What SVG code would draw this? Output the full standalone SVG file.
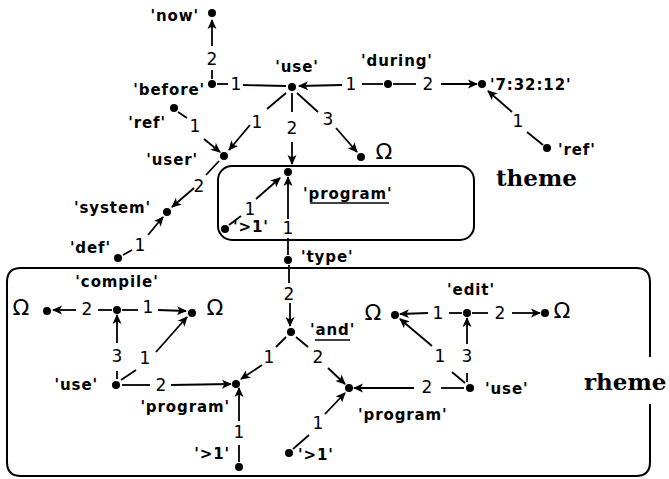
<svg xmlns="http://www.w3.org/2000/svg" width="669" height="479" viewBox="0 0 669 479">
<defs>
<marker id="ah" markerUnits="userSpaceOnUse" markerWidth="10" markerHeight="10" refX="9" refY="5" orient="auto">
<path d="M0,0.5 L10,5 L0,9.5 L2.5,5 z" fill="#000"/>
</marker>
<style>
.n{font-family:'DejaVu Sans',sans-serif;font-weight:bold;font-size:15px;letter-spacing:0.9px;fill:#000}
.e{font-family:'DejaVu Sans',sans-serif;font-size:17px;fill:#000;text-anchor:middle}
.o{font-family:'DejaVu Sans',sans-serif;font-size:22px;fill:#000;text-anchor:middle}
.t{font-family:'DejaVu Serif',serif;font-weight:bold;font-size:23px;fill:#000}
.d{fill:#000}
#edges line{stroke:#000;stroke-width:1.8;fill:none}
#edges line.a{marker-end:url(#ah)}
.box{fill:none;stroke:#000;stroke-width:2}
.u{stroke:#000;stroke-width:1.5}
</style>
</defs>
<rect width="669" height="479" fill="#fff"/>

<g id="themes">
<rect class="box" x="218" y="166" width="256" height="74" rx="14"/>
<text class="t" x="496" y="186">theme</text>
<path class="box" d="M650,357 V282 Q650,268 636,268 H21 Q7,268 7,282 V462 Q7,476 21,476 H636 Q650,476 650,462 V404"/>
<text class="t" x="584" y="390">rheme</text>
</g>

<g id="edges">
<g><line x1="243" y1="85" x2="286" y2="86"/><line x1="217" y1="84" x2="228" y2="84"/><text class="e" x="236" y="90">1</text></g>
<g><line x1="212" y1="79" x2="212" y2="70"/><line class="a" x1="212" y1="46" x2="212" y2="20"/><text class="e" x="212" y="65">2</text></g>
<g><line x1="383" y1="84" x2="362" y2="84"/><line class="a" x1="342" y1="85" x2="299" y2="86"/><text class="e" x="351" y="90">1</text></g>
<g><line x1="393" y1="84" x2="416" y2="84"/><line class="a" x1="441" y1="84" x2="477" y2="84"/><text class="e" x="428" y="90">2</text></g>
<g><line x1="543" y1="145" x2="527" y2="132"/><line class="a" x1="512" y1="112" x2="488" y2="91"/><text class="e" x="518" y="127">1</text></g>
<g><line x1="286" y1="93" x2="267" y2="109"/><line class="a" x1="250" y1="125" x2="229" y2="150"/><text class="e" x="257" y="128">1</text></g>
<g><line x1="292" y1="93" x2="292" y2="112"/><line class="a" x1="292" y1="142" x2="292" y2="164"/><text class="e" x="292" y="134">2</text></g>
<g><line x1="297" y1="93" x2="318" y2="112"/><line class="a" x1="336" y1="128" x2="357" y2="152"/><text class="e" x="328" y="125">3</text></g>
<g><line x1="178" y1="112" x2="187" y2="118"/><line class="a" x1="204" y1="139" x2="220" y2="152"/><text class="e" x="195" y="132">1</text></g>
<g><line x1="219" y1="161" x2="206" y2="175"/><line class="a" x1="194" y1="188" x2="172" y2="207"/><text class="e" x="199" y="192">2</text></g>
<g><line x1="123" y1="255" x2="132" y2="250"/><line class="a" x1="148" y1="235" x2="163" y2="217"/><text class="e" x="140" y="251">1</text></g>
<g><line x1="229" y1="225" x2="241" y2="216"/><line class="a" x1="256" y1="199" x2="280" y2="178"/><text class="e" x="250" y="215">1</text></g>
<g><line x1="288" y1="255" x2="288" y2="238"/><line class="a" x1="288" y1="219" x2="288" y2="177"/><text class="e" x="288" y="234">1</text></g>
<g><line x1="289" y1="265" x2="289" y2="283"/><line class="a" x1="290" y1="303" x2="290" y2="326"/><text class="e" x="289" y="300">2</text></g>
<g><line x1="286" y1="337" x2="276" y2="347"/><line class="a" x1="262" y1="365" x2="241" y2="379"/><text class="e" x="269" y="363">1</text></g>
<g><line x1="296" y1="337" x2="308" y2="347"/><line class="a" x1="328" y1="368" x2="345" y2="384"/><text class="e" x="318" y="363">2</text></g>
<g><line x1="112" y1="310" x2="98" y2="310"/><line class="a" x1="76" y1="310" x2="53" y2="310"/><text class="e" x="87" y="315">2</text></g>
<g><line x1="122" y1="310" x2="138" y2="310"/><line class="a" x1="158" y1="310" x2="186" y2="311"/><text class="e" x="148" y="313">1</text></g>
<g><line x1="117" y1="379" x2="117" y2="371"/><line class="a" x1="117" y1="343" x2="117" y2="315"/><text class="e" x="117" y="362">3</text></g>
<g><line x1="121" y1="380" x2="136" y2="370"/><line class="a" x1="156" y1="352" x2="187" y2="317"/><text class="e" x="145" y="364">1</text></g>
<g><line x1="122" y1="385" x2="150" y2="385"/><line class="a" x1="171" y1="385" x2="231" y2="384"/><text class="e" x="161" y="391">2</text></g>
<g><line x1="239" y1="462" x2="239" y2="445"/><line class="a" x1="239" y1="421" x2="239" y2="388"/><text class="e" x="239" y="438">1</text></g>
<g><line x1="293" y1="449" x2="309" y2="435"/><line class="a" x1="325" y1="414" x2="345" y2="393"/><text class="e" x="318" y="429">1</text></g>
<g><line x1="464" y1="388" x2="441" y2="388"/><line class="a" x1="414" y1="388" x2="354" y2="388"/><text class="e" x="427" y="393">2</text></g>
<g><line x1="462" y1="313" x2="449" y2="313"/><line class="a" x1="428" y1="313" x2="400" y2="314"/><text class="e" x="438" y="319">1</text></g>
<g><line x1="472" y1="313" x2="488" y2="313"/><line class="a" x1="512" y1="313" x2="540" y2="313"/><text class="e" x="500" y="319">2</text></g>
<g><line x1="467" y1="382" x2="467" y2="373"/><line class="a" x1="467" y1="344" x2="467" y2="318"/><text class="e" x="467" y="362">3</text></g>
<g><line x1="465" y1="383" x2="452" y2="372"/><line class="a" x1="432" y1="346" x2="400" y2="319"/><text class="e" x="440" y="362">1</text></g>
</g>

<g id="nodes">
<g id="now"><circle class="d" cx="212" cy="13" r="4"/><text class="n" x="199" y="21" text-anchor="end">'now'</text></g>
<g id="before"><circle class="d" cx="212" cy="84" r="4"/><text class="n" x="205" y="95" text-anchor="end">'before'</text></g>
<g id="use1"><circle class="d" cx="292" cy="87" r="4"/><text class="n" x="297" y="72" text-anchor="middle">'use'</text></g>
<g id="during"><circle class="d" cx="388" cy="84" r="4"/><text class="n" x="397" y="66" text-anchor="middle">'during'</text></g>
<g id="time"><circle class="d" cx="482" cy="84" r="4"/><text class="n" x="490" y="90">'7:32:12'</text></g>
<g id="ref2"><circle class="d" cx="547" cy="148" r="4"/><text class="n" x="558" y="155">'ref'</text></g>
<g id="ref1"><circle class="d" cx="174" cy="108" r="4"/><text class="n" x="166" y="128" text-anchor="end">'ref'</text></g>
<g id="user"><circle class="d" cx="224" cy="156" r="4"/><text class="n" x="198" y="165" text-anchor="end">'user'</text></g>
<g id="omega1"><circle class="d" cx="361" cy="157" r="4"/><text class="o" x="384" y="159">Ω</text></g>
<g id="system"><circle class="d" cx="167" cy="212" r="4"/><text class="n" x="151" y="213" text-anchor="end">'system'</text></g>
<g id="def"><circle class="d" cx="118" cy="258" r="4"/><text class="n" x="111" y="253" text-anchor="end">'def'</text></g>
<g id="program1"><circle class="d" cx="288" cy="172" r="4"/><text class="n" x="303" y="199">'program'</text><line class="u" x1="310" y1="203" x2="389" y2="203"/></g>
<g id="gt1a"><circle class="d" cx="225" cy="229" r="4"/><text class="n" x="233" y="232">'&gt;1'</text></g>
<g id="type"><circle class="d" cx="288" cy="260" r="4"/><text class="n" x="301" y="262">'type'</text></g>
<g id="and"><circle class="d" cx="291" cy="332" r="4"/><text class="n" x="310" y="335">'and'</text><line class="u" x1="315" y1="340" x2="350" y2="340"/></g>
<g id="compile"><circle class="d" cx="117" cy="310" r="4"/><text class="n" x="117" y="287" text-anchor="middle">'compile'</text></g>
<g id="omegaL1"><circle class="d" cx="47" cy="311" r="4"/><text class="o" x="21" y="315">Ω</text></g>
<g id="omegaL2"><circle class="d" cx="192" cy="313" r="4"/><text class="o" x="215" y="315">Ω</text></g>
<g id="useL"><circle class="d" cx="116" cy="385" r="4"/><text class="n" x="98" y="390" text-anchor="end">'use'</text></g>
<g id="programL"><circle class="d" cx="236" cy="384" r="4"/><text class="n" x="230" y="412" text-anchor="end">'program'</text></g>
<g id="gt1b"><circle class="d" cx="239" cy="467" r="4"/><text class="n" x="230" y="459" text-anchor="end">'&gt;1'</text></g>
<g id="gt1c"><circle class="d" cx="289" cy="453" r="4"/><text class="n" x="298" y="460">'&gt;1'</text></g>
<g id="programR"><circle class="d" cx="349" cy="388" r="4"/><text class="n" x="358" y="420">'program'</text></g>
<g id="edit"><circle class="d" cx="467" cy="313" r="4"/><text class="n" x="471" y="295" text-anchor="middle">'edit'</text></g>
<g id="omegaR1"><circle class="d" cx="395" cy="315" r="4"/><text class="o" x="373" y="320">Ω</text></g>
<g id="omegaR2"><circle class="d" cx="545" cy="313" r="4"/><text class="o" x="562" y="318">Ω</text></g>
<g id="useR"><circle class="d" cx="470" cy="388" r="4"/><text class="n" x="485" y="394">'use'</text></g>
</g>
</svg>
